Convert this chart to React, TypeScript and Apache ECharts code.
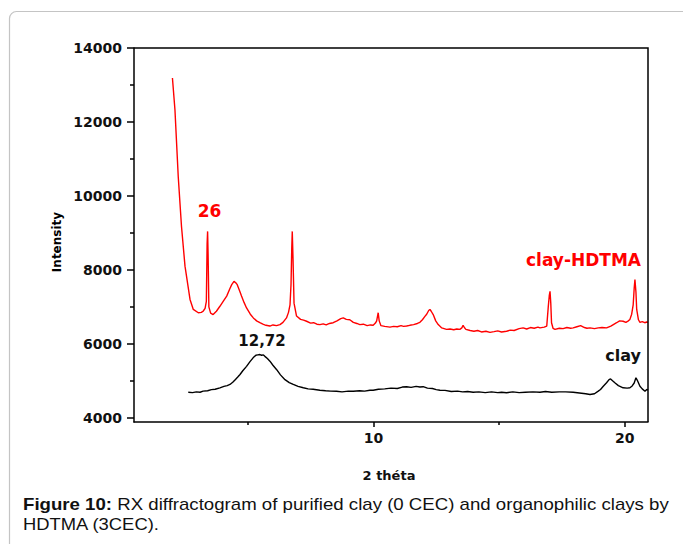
import React, { useEffect, useRef } from "react";
import * as echarts from "echarts";

const redX = [2.00,2.10,2.23,2.36,2.50,2.70,2.83,3.03,3.15,3.22,3.30,3.35,3.38,3.40,3.42,3.45,3.52,3.62,3.75,3.89,4.02,4.16,4.28,4.36,4.45,4.52,4.58,4.68,4.75,4.85,4.95,5.10,5.22,5.35,5.48,5.60,5.72,5.88,6.00,6.14,6.28,6.40,6.54,6.62,6.68,6.72,6.75,6.77,6.80,6.84,6.94,7.10,7.22,7.34,7.50,7.62,7.75,7.87,8.00,8.12,8.25,8.40,8.55,8.70,8.80,8.92,9.06,9.20,9.34,9.46,9.60,9.75,9.88,9.99,10.08,10.13,10.19,10.23,10.30,10.45,10.66,10.80,10.95,11.10,11.20,11.32,11.45,11.60,11.75,11.85,11.95,12.05,12.12,12.20,12.25,12.30,12.38,12.48,12.58,12.72,12.91,13.05,13.20,13.32,13.44,13.52,13.57,13.62,13.68,13.85,14.00,14.15,14.30,14.48,14.64,14.80,14.95,15.10,15.30,15.45,15.60,15.80,15.96,16.10,16.25,16.40,16.55,16.63,16.80,16.90,16.96,17.00,17.03,17.06,17.09,17.15,17.23,17.40,17.55,17.70,17.85,17.95,18.10,18.25,18.40,18.50,18.62,18.80,18.95,19.10,19.28,19.45,19.60,19.68,19.80,19.94,20.05,20.15,20.21,20.28,20.34,20.38,20.41,20.45,20.48,20.55,20.61,20.70,20.80,20.88,20.93];
const redY = [13190,12330,10530,9180,8100,7200,6930,6840,6850,6880,6960,7150,8700,9040,8400,7000,6830,6790,6880,7015,7150,7290,7480,7600,7690,7650,7600,7420,7290,7120,6970,6800,6700,6620,6570,6530,6500,6480,6510,6490,6520,6580,6700,6850,7050,7600,8600,9040,8300,7100,6750,6660,6640,6610,6560,6570,6530,6520,6540,6510,6550,6570,6620,6680,6700,6660,6650,6580,6550,6520,6530,6490,6510,6500,6560,6620,6840,6620,6490,6470,6450,6470,6460,6490,6470,6480,6500,6520,6550,6580,6650,6740,6800,6900,6930,6880,6790,6620,6520,6430,6390,6400,6380,6400,6390,6430,6500,6440,6390,6360,6340,6360,6320,6340,6310,6330,6350,6320,6340,6370,6360,6410,6430,6400,6440,6420,6450,6430,6450,6480,7000,7300,7420,7100,6570,6420,6390,6420,6410,6440,6420,6430,6460,6490,6440,6420,6430,6410,6430,6440,6430,6480,6540,6570,6620,6610,6580,6620,6660,6800,7050,7500,7740,7400,6930,6650,6580,6600,6570,6590,6580];

const blackX = [2.63,2.80,2.95,3.10,3.22,3.40,3.55,3.70,3.89,4.05,4.18,4.29,4.40,4.50,4.60,4.69,4.80,4.95,5.08,5.21,5.32,5.40,5.48,5.55,5.62,5.68,5.78,5.88,6.00,6.15,6.30,6.48,6.65,6.81,7.00,7.21,7.40,7.60,7.87,8.10,8.30,8.53,8.75,9.00,9.20,9.45,9.65,9.86,9.99,10.20,10.45,10.70,10.95,11.15,11.32,11.50,11.70,11.85,11.98,12.15,12.35,12.50,12.65,12.85,13.10,13.35,13.55,13.75,13.97,14.20,14.45,14.70,14.95,15.10,15.30,15.55,15.80,16.05,16.35,16.63,16.85,17.10,17.40,17.65,17.95,18.20,18.45,18.62,18.80,18.95,19.04,19.15,19.28,19.38,19.44,19.52,19.61,19.75,19.94,20.10,20.21,20.30,20.38,20.45,20.50,20.61,20.70,20.81,20.88,20.93];
const blackY = [4690,4680,4700,4690,4720,4730,4760,4770,4810,4850,4870,4900,4960,5030,5100,5170,5270,5390,5510,5620,5690,5700,5710,5690,5700,5660,5600,5530,5420,5300,5160,5030,4950,4900,4850,4810,4780,4770,4745,4730,4720,4718,4700,4720,4718,4730,4720,4745,4745,4770,4780,4800,4790,4830,4840,4820,4850,4830,4840,4800,4790,4760,4745,4740,4710,4720,4700,4710,4690,4700,4680,4700,4680,4690,4675,4700,4680,4690,4700,4690,4710,4690,4700,4700,4690,4670,4650,4630,4650,4720,4765,4850,4945,5030,5050,5000,4945,4870,4810,4800,4810,4860,4940,5080,5020,4850,4780,4718,4764,4750];

const xMajorTicks = [10, 20];
const xMinorTicks = [5, 15];
const yMajorTicks = [4000, 6000, 8000, 10000, 12000, 14000];
const yMinorTicks = [5000, 7000, 9000, 11000, 13000];

const seriesNames = ["clay-HDTMA", "clay"];
const peakLabels = ["26", "12,72"];
const xAxisTitle = "2 théta";
const yAxisTitle = "Intensity";
const captionBold = "Figure 10:";
const captionLine1 = " RX diffractogram of purified clay (0 CEC) and organophilic clays by";
const captionLine2 = "HDTMA (3CEC).";

const FONT = "DejaVu Sans";
const CAP_FONT = "Liberation Sans";
const TXT = "#111";

export default function App() {
  const ref = useRef<HTMLDivElement>(null);
  useEffect(() => {
    if (!ref.current) return;
    const chart = echarts.init(ref.current, null, { renderer: "svg" });
    const xMin = 0.47, xMax = 20.93, yMin = 3885, yMax = 14000;
    const redData = redX.map((x, i) => [x, redY[i]]);
    const blackData = blackX.map((x, i) => [x, blackY[i]]);
    chart.setOption({
      animation: false,
      backgroundColor: "#fff",
      grid: { left: 134, right: 35, top: 48, bottom: 122 },
      xAxis: [
        {
          type: "value", min: xMin, max: xMax, position: "bottom",
          axisLine: { show: true, onZero: false, lineStyle: { color: "#000", width: 1.5 } },
          axisTick: { show: true, customValues: xMajorTicks, length: 5, lineStyle: { color: "#000", width: 1.5 } },
          axisLabel: {
            customValues: xMajorTicks, margin: 9, fontFamily: FONT, fontWeight: "bold", fontSize: 14, color: TXT,
            formatter: (v: number) => String(v),
          },
          splitLine: { show: false },
        },
        {
          type: "value", min: xMin, max: xMax, position: "bottom", offset: 0,
          axisLine: { show: false },
          axisTick: { show: true, customValues: xMinorTicks, length: 3, lineStyle: { color: "#000", width: 1.5 } },
          axisLabel: { show: false },
          splitLine: { show: false },
        },
      ],
      yAxis: [
        {
          type: "value", min: yMin, max: yMax, position: "left",
          axisLine: { show: true, onZero: false, lineStyle: { color: "#000", width: 1.5 } },
          axisTick: { show: true, customValues: yMajorTicks, length: 7, lineStyle: { color: "#000", width: 1.5 } },
          axisLabel: {
            customValues: yMajorTicks, margin: 12, fontFamily: FONT, fontWeight: "bold", fontSize: 14, color: TXT,
            formatter: (v: number) => String(v),
          },
          splitLine: { show: false },
        },
        {
          type: "value", min: yMin, max: yMax, position: "left", offset: 0,
          axisLine: { show: false },
          axisTick: { show: true, customValues: yMinorTicks, length: 4, lineStyle: { color: "#000", width: 1.5 } },
          axisLabel: { show: false },
          splitLine: { show: false },
        },
      ],
      series: [
        {
          name: seriesNames[0], type: "line", xAxisIndex: 0, yAxisIndex: 0,
          data: redData, showSymbol: false, symbol: "none",
          lineStyle: { color: "#ff0000", width: 1.4 }, z: 3,
        },
        {
          name: seriesNames[1], type: "line", xAxisIndex: 0, yAxisIndex: 0,
          data: blackData, showSymbol: false, symbol: "none",
          lineStyle: { color: "#000", width: 1.4 }, z: 3,
        },
      ],
    });
    const tl = chart.convertToPixel({ gridIndex: 0 }, [xMin, yMax]) as any;
    const br = chart.convertToPixel({ gridIndex: 0 }, [xMax, yMin]) as any;
    const ok = (v: any) => typeof v === "number" && isFinite(v);
    const x0 = tl && ok(tl[0]) ? tl[0] : 134, y0 = tl && ok(tl[1]) ? tl[1] : 48;
    const x1 = br && ok(br[0]) ? br[0] : 648, y1 = br && ok(br[1]) ? br[1] : 422;
    chart.setOption({
      graphic: [
        {
          type: "rect", z: 0, silent: true,
          shape: { x: 9.5, y: 11.5, width: 720, height: 600, r: 7 },
          style: { fill: "none", stroke: "#c4c4c4", lineWidth: 1.2 },
        },
        {
          type: "polyline", z: 100, silent: true,
          shape: { points: [[x0, y0], [x1, y0], [x1, y1]] },
          style: { stroke: "#000", lineWidth: 1.5, fill: "none" },
        },
        {
          type: "text", x: 209.5, y: 211,
          style: { text: peakLabels[0], fill: "#ff0000", fontFamily: FONT, fontWeight: "bold", fontSize: 17, align: "center", verticalAlign: "middle" },
        },
        {
          type: "text", x: 262, y: 341,
          style: { text: peakLabels[1], fill: TXT, fontFamily: FONT, fontWeight: "bold", fontSize: 15, align: "center", verticalAlign: "middle" },
        },
        {
          type: "text", x: 641, y: 260,
          style: { text: seriesNames[0], fill: "#ff0000", fontFamily: FONT, fontWeight: "bold", fontSize: 17, align: "right", verticalAlign: "middle" },
        },
        {
          type: "text", x: 641, y: 355,
          style: { text: seriesNames[1], fill: TXT, fontFamily: FONT, fontWeight: "bold", fontSize: 16, align: "right", verticalAlign: "middle" },
        },
        {
          type: "text", x: 389, y: 475,
          style: { text: xAxisTitle, fill: TXT, fontFamily: FONT, fontWeight: "bold", fontSize: 13, align: "center", verticalAlign: "middle" },
        },
        {
          type: "text", x: 57, y: 242, rotation: Math.PI / 2,
          style: { text: yAxisTitle, fill: "#000", fontFamily: FONT, fontWeight: "bold", fontSize: 12, align: "center", verticalAlign: "middle" },
        },
        {
          type: "text", x: 23, y: 504, scaleX: 1.165,
          style: {
            text: `{b|${captionBold}}{n|${captionLine1}}`,
            verticalAlign: "middle", align: "left",
            fontFamily: CAP_FONT, fontSize: 16, fill: "#111",
            rich: {
              b: { fontFamily: CAP_FONT, fontSize: 16, fontWeight: "bold", fill: "#111" },
              n: { fontFamily: CAP_FONT, fontSize: 16, fontWeight: "normal", fill: "#111" },
            },
          },
        },
        {
          type: "text", x: 23, y: 524, scaleX: 1.15,
          style: { text: captionLine2, fontFamily: CAP_FONT, fontSize: 16, fill: "#111", verticalAlign: "middle", align: "left" },
        },
      ],
    });
    return () => chart.dispose();
  }, []);
  return (
    <div
      ref={ref}
      style={{ position: "absolute", left: 0, top: 0, width: 683, height: 544 }}
    />
  );
}
